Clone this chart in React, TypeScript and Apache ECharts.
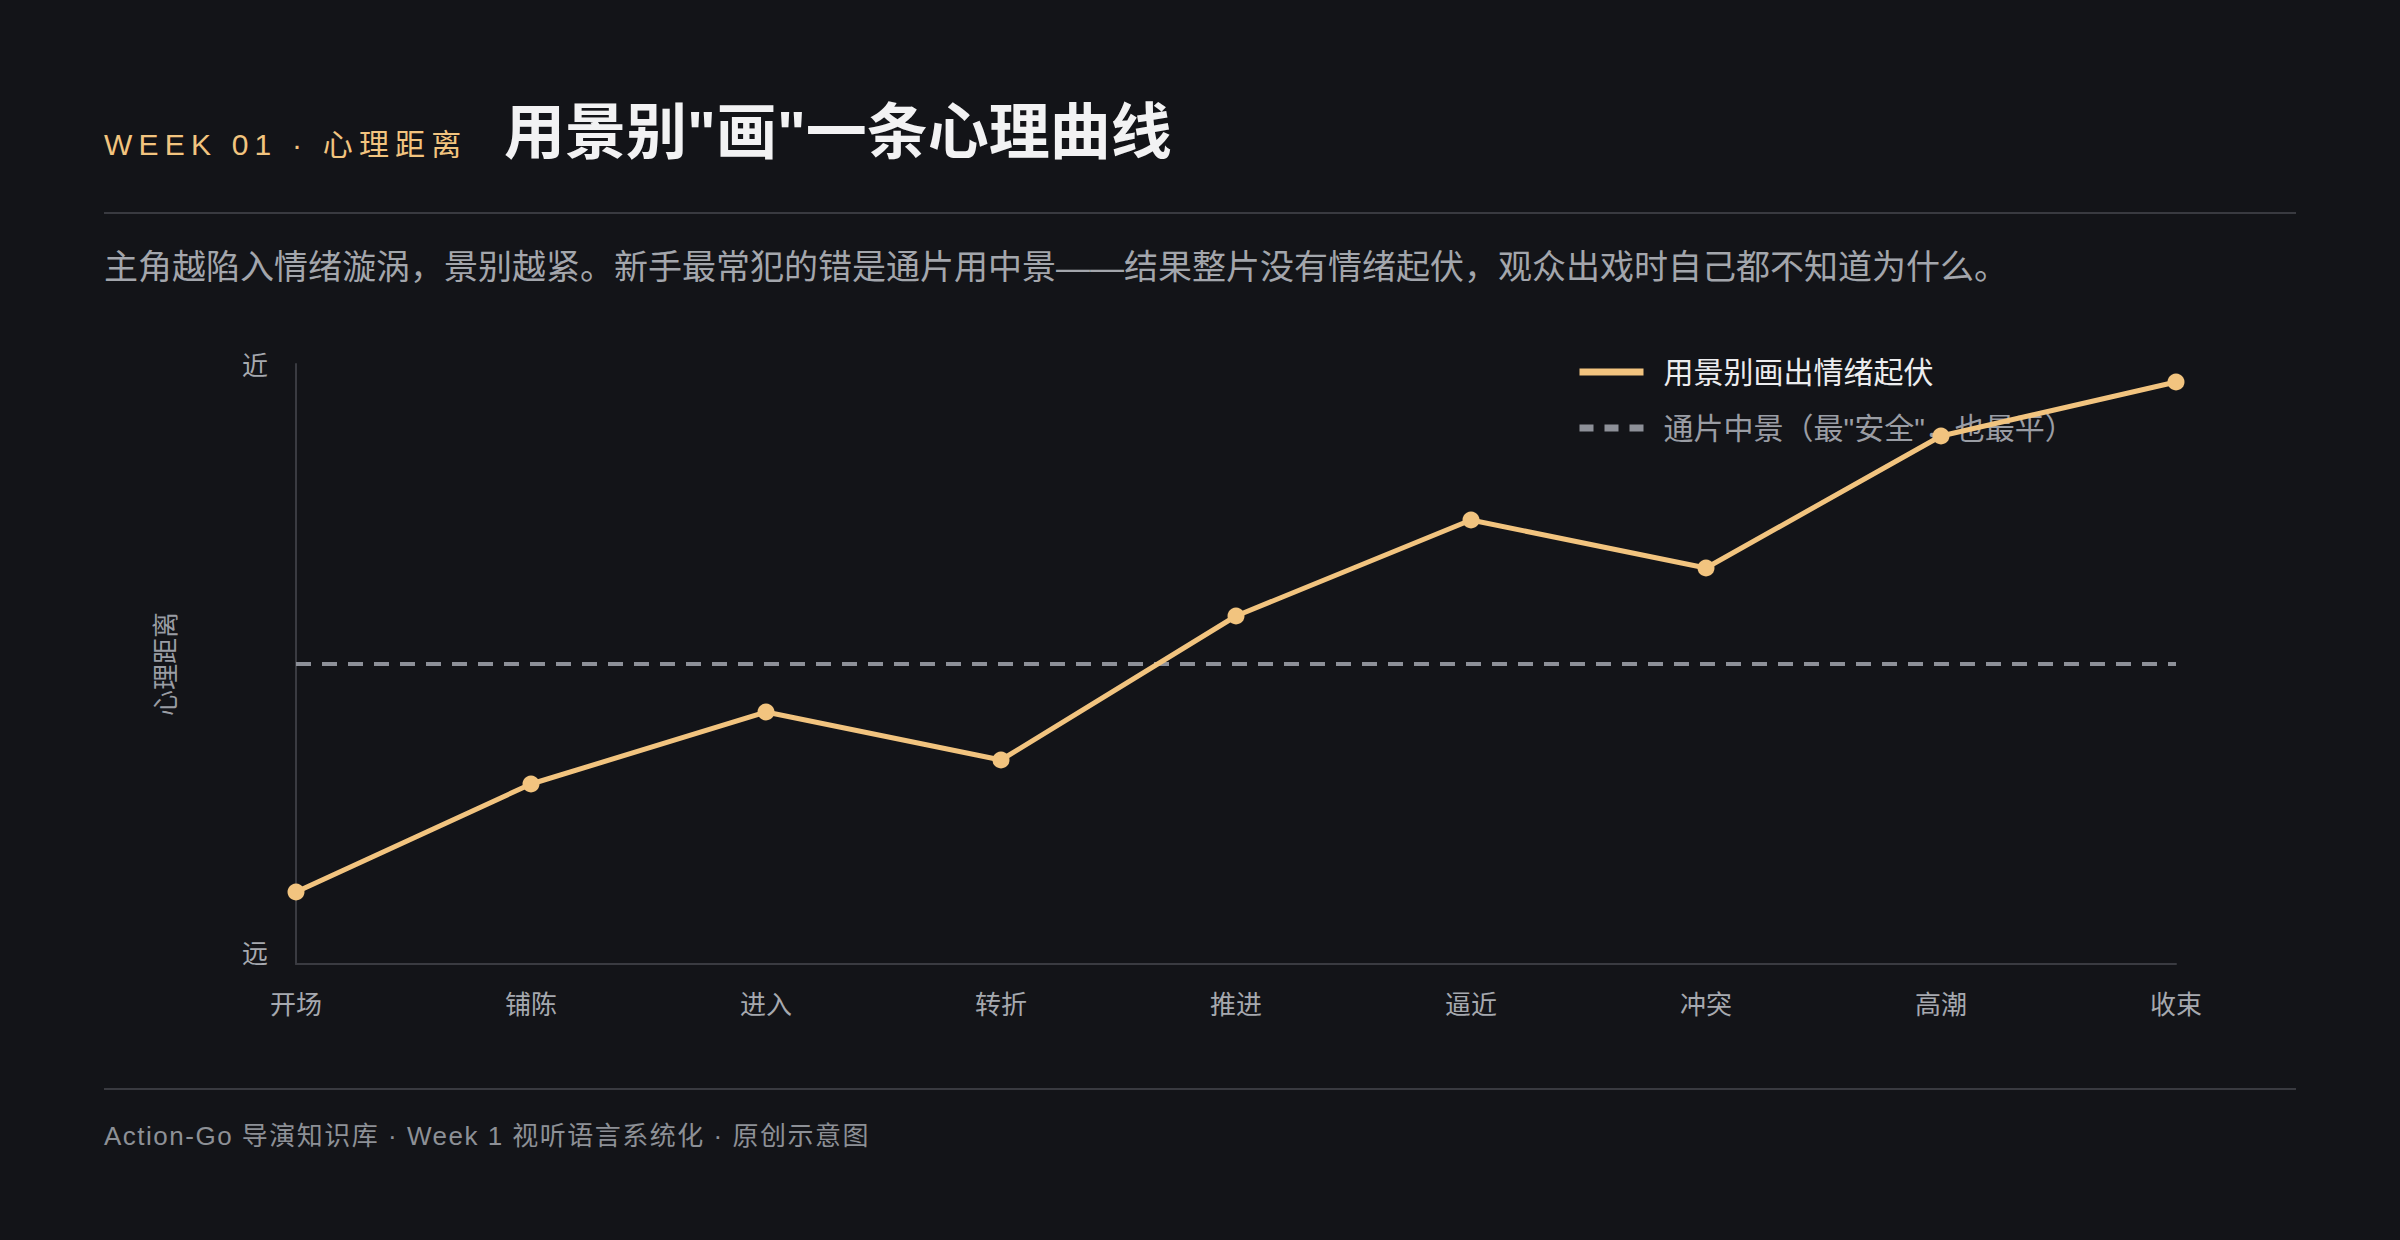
import React, { useEffect, useRef } from "react";
import * as echarts from "echarts";

const HEADER_TAG = "WEEK 01 · 心理距离";
const TITLE = '用景别"画"一条心理曲线';
const SUBTITLE =
  "主角越陷入情绪漩涡，景别越紧。新手最常犯的错是通片用中景——结果整片没有情绪起伏，观众出戏时自己都不知道为什么。";
const FOOTER = "Action-Go 导演知识库 · Week 1 视听语言系统化 · 原创示意图";

const categories = ["开场", "铺陈", "进入", "转折", "推进", "逼近", "冲突", "高潮", "收束"];
const curveValues = [1.2, 3.0, 4.2, 3.4, 5.8, 7.4, 6.6, 8.8, 9.7];
const flatValues = [5, 5, 5, 5, 5, 5, 5, 5, 5];
const seriesNames = ["用景别画出情绪起伏", '通片中景（最"安全"，也最平）'];
const yAxisName = "心理距离";
const yNear = "近";
const yFar = "远";

const FONT = '"Liberation Sans", "Noto Sans CJK SC", sans-serif';
const GOLD = "#F2C47F";
const BG = "#131418";

function applyLetterSpacing(el: HTMLElement) {
  el.querySelectorAll("text").forEach((t) => {
    if (t.textContent === HEADER_TAG) t.setAttribute("letter-spacing", "6.2");
    if (t.textContent === FOOTER) t.setAttribute("letter-spacing", "1.5");
  });
}

export default function App() {
  const ref = useRef<HTMLDivElement>(null);

  useEffect(() => {
    document.body.style.margin = "0";
    const el = ref.current!;
    const chart = echarts.init(el, null, { renderer: "svg" });
    chart.setOption({
      animation: false,
      backgroundColor: BG,
      textStyle: { fontFamily: FONT },
      grid: { left: 296, right: 224, top: 364, bottom: 276 },
      legend: {
        orient: "vertical",
        left: 1576,
        top: 357,
        padding: 0,
        z: 1,
        itemWidth: 64,
        itemHeight: 7,
        itemGap: 26,
        selectedMode: false,
        textStyle: { fontSize: 30, fontFamily: FONT, padding: [0, 0, 0, 15] },
        data: [
          {
            name: seriesNames[0],
            itemStyle: { opacity: 0 },
            lineStyle: { width: 7, color: GOLD },
            textStyle: { color: "#ececee" },
          },
          {
            name: seriesNames[1],
            itemStyle: { opacity: 0 },
            lineStyle: { width: 7, color: "#8d9098", type: [14, 11] },
            textStyle: { color: "#9a9da4" },
          },
        ],
      },
      xAxis: {
        type: "category",
        data: categories,
        boundaryGap: false,
        axisLine: { lineStyle: { color: "#3a3b41", width: 2 } },
        axisTick: { show: false },
        axisLabel: { color: "#a6a9af", fontSize: 26, margin: 28, fontFamily: FONT },
        splitLine: { show: false },
      },
      yAxis: {
        type: "value",
        min: 0,
        max: 10,
        interval: 10,
        name: yAxisName,
        nameLocation: "middle",
        nameRotate: 90,
        nameGap: 117,
        nameTextStyle: { color: "#9a9da4", fontSize: 26, fontFamily: FONT },
        axisLine: { show: true, lineStyle: { color: "#3a3b41", width: 2 } },
        axisTick: { show: false },
        splitLine: { show: false },
        axisLabel: {
          margin: 28,
          color: "#a6a9af",
          fontSize: 26,
          fontFamily: FONT,
          formatter: (v: number) => (v === 10 ? "{hi|" + yNear + "}" : v === 0 ? "{lo|" + yFar + "}" : ""),
          rich: {
            hi: { color: "#a6a9af", fontSize: 26, fontFamily: FONT, padding: [4, 0, 0, 0] },
            lo: { color: "#a6a9af", fontSize: 26, fontFamily: FONT, padding: [0, 0, 20, 0] },
          },
        },
      },
      series: [
        {
          name: seriesNames[1],
          type: "line",
          data: flatValues,
          symbol: "none",
          z: 2,
          lineStyle: { color: "#8d9098", width: 4, type: [15, 11] },
          itemStyle: { color: "#8d9098" },
          emphasis: { disabled: true },
        },
        {
          name: seriesNames[0],
          type: "line",
          data: curveValues,
          symbol: "circle",
          symbolSize: 17,
          z: 5,
          lineStyle: { color: GOLD, width: 5 },
          itemStyle: { color: GOLD },
          emphasis: { disabled: true },
        },
      ],
      graphic: [
        {
          type: "text",
          x: 104,
          y: 144,
          style: {
            text: HEADER_TAG,
            fill: GOLD,
            fontSize: 30,
            fontFamily: FONT,
            align: "left",
            verticalAlign: "middle",
          },
        },
        {
          type: "text",
          x: 504,
          y: 133,
          style: {
            text: TITLE,
            fill: "#f2f2f3",
            fontSize: 61,
            fontWeight: "bold",
            fontFamily: FONT,
            align: "left",
            verticalAlign: "middle",
          },
        },
        {
          type: "line",
          shape: { x1: 104, y1: 213, x2: 2296, y2: 213 },
          style: { stroke: "#393a40", lineWidth: 2 },
        },
        {
          type: "text",
          x: 104,
          y: 267,
          style: {
            text: SUBTITLE,
            fill: "#a3a6ac",
            fontSize: 34,
            fontFamily: FONT,
            align: "left",
            verticalAlign: "middle",
          },
        },
        {
          type: "line",
          shape: { x1: 104, y1: 1089, x2: 2296, y2: 1089 },
          style: { stroke: "#393a40", lineWidth: 2 },
        },
        {
          type: "text",
          x: 104,
          y: 1136,
          style: {
            text: FOOTER,
            fill: "#8d9096",
            fontSize: 26,
            fontFamily: FONT,
            align: "left",
            verticalAlign: "middle",
          },
        },
      ],
    });
    applyLetterSpacing(el);
    chart.on("finished", () => applyLetterSpacing(el));
    return () => {
      chart.dispose();
    };
  }, []);

  return (
    <div
      ref={ref}
      style={{ position: "fixed", left: 0, top: 0, width: 2400, height: 1240 }}
    />
  );
}
